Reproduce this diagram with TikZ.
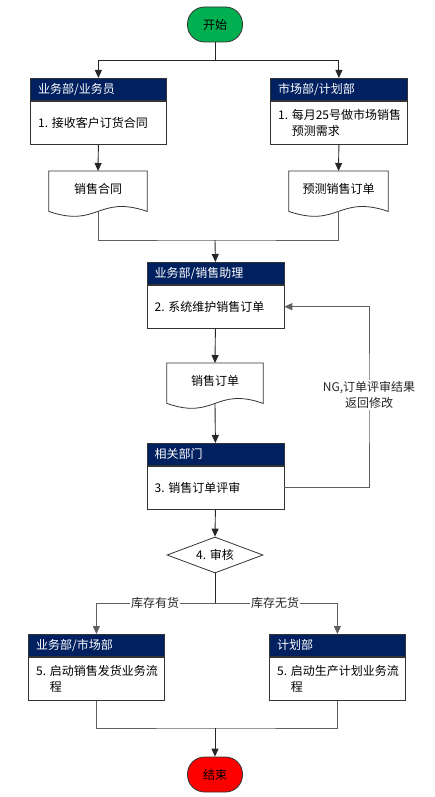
\documentclass[tikz,border=0pt]{standalone}
\usepackage{fontspec}
\setmainfont{Noto Sans CJK SC}
\usetikzlibrary{arrows.meta,shapes.geometric,calc}
\definecolor{navy}{RGB}{0,32,96}
\definecolor{startgreen}{RGB}{0,176,80}
\definecolor{lgray}{RGB}{95,95,95}
\newcommand\pbox[6]{%
  \node[hdr, minimum width=#4pt, anchor=north west] (#1h) at (#2,#3) {};
  \node[hdrtxt, anchor=west] (#1ht) at ($(#1h.west)+(8,0)$) {#5};
  \node[bdy, minimum width=#4pt, anchor=north] (#1) at (#1h.south) {};
  \node[bodytxt, anchor=west] (#1t) at ($(#1.west)+(8,0)$) {#6};
}
\newcommand\docshape[5]{%
  \node[doctxt, minimum width=#4pt, anchor=north] (#1) at (#2,#3) {#5};
  \draw[docline] (#1.north west) -- (#1.north east) -- ($(#1.south east)+(0,4)$)
    .. controls ($(#1.south)+(0,-13)$) and ($(#1.south)+(0,21)$) .. ($(#1.south west)+(0,4)$) -- cycle;
  \coordinate (#1b) at ($(#1.south)+(0,4)$);
}
\begin{document}
\begin{tikzpicture}[x=1pt,y=-1pt,font=\fontsize{12}{16}\selectfont,
  hdr/.style={draw=black!80, fill=navy, minimum height=22pt, inner sep=0pt, line width=0.8pt},
  bdy/.style={draw=black!80, fill=white, minimum height=43pt, inner sep=0pt, line width=0.8pt},
  hdrtxt/.style={text=white, inner sep=0pt},
  bodytxt/.style={inner sep=0pt, align=left},
  term/.style={draw=black!80, rounded corners=17pt, minimum width=55pt, minimum height=35pt, inner sep=0pt, line width=0.8pt},
  dec/.style={diamond, draw=black!80, aspect=2.67, minimum width=96pt, minimum height=36pt, inner sep=0pt, line width=0.8pt},
  doctxt/.style={minimum height=36pt, inner sep=0pt},
  docline/.style={draw=black!80, line width=0.8pt},
  flow/.style={line width=0.9pt, draw=black!85},
  gflow/.style={line width=0.9pt, draw=lgray},
  arr/.style={flow, -{Triangle[length=8pt,width=7pt]}},
  garr/.style={gflow, -{Triangle[length=8pt,width=7pt]}},
  lbl/.style={fill=white, inner sep=1pt, text=black!85, align=center}
]
\useasboundingbox (0,0) rectangle (434,797);

% terminals
\node[term, fill=startgreen] (start) at (215,24.5) {开始};
\node[term, fill=red] (end) at (215,774.5) {结束};

% process boxes
\pbox{ba}{30}{78}{136}{业务部/业务员}{1. 接收客户订货合同}
\pbox{bb}{270}{78}{137}{市场部/计划部}{1. 每月25号做市场销售\\\hphantom{1. }预测需求}
\pbox{bc}{146.5}{262}{137}{业务部/销售助理}{2. 系统维护销售订单}
\pbox{bd}{146.5}{443}{137}{相关部门}{3. 销售订单评审}
\pbox{be}{28}{634}{136}{业务部/市场部}{5. 启动销售发货业务流\\\hphantom{5. }程}
\pbox{bf}{269}{634}{136}{计划部}{5. 启动生产计划业务流\\\hphantom{5. }程}

% documents
\docshape{da}{98}{171}{98}{销售合同}
\docshape{db}{338.5}{171}{99}{预测销售订单}
\docshape{dc}{215}{363}{96}{销售订单}

% decision
\node[dec] (dec) at (215,555) {4. 审核};

% connectors
\coordinate (s1) at (215,60);
\draw[flow] (start.south) -- (s1);
\draw[arr] (s1) -| (bah.north);
\draw[arr] (s1) -| (bbh.north);
\draw[arr] (ba.south) -- (da.north);
\draw[arr] (bb.south) -- (db.north);
\coordinate (j1) at (215,240);
\draw[gflow] (dab) |- (j1) -| (dbb);
\draw[arr] (j1) -- (bch.north);
\draw[arr] (bc.south) -- (dc.north);
\draw[arr] (dcb) -- (bdh.north);
\coordinate (fbx) at (369,400);
\draw[garr] (bd.east) -| (fbx) |- (bc.east);
\node[lbl] (ng) at (369,395) {NG,订单评审结果\\返回修改};
\draw[arr] (bd.south) -- (dec.north);
\coordinate (j2) at (215,603);
\draw[flow] (dec.south) -- (j2);
\draw[garr] (j2) -| (beh.north);
\draw[garr] (j2) -| (bfh.north);
\node[lbl] (yes) at (155,603) {库存有货};
\node[lbl] (no) at (275,603) {库存无货};
\coordinate (j3) at (215,728);
\draw[gflow] (be.south) |- (j3) -| (bf.south);
\draw[arr] (j3) -- (end.north);
\end{tikzpicture}
\end{document}
